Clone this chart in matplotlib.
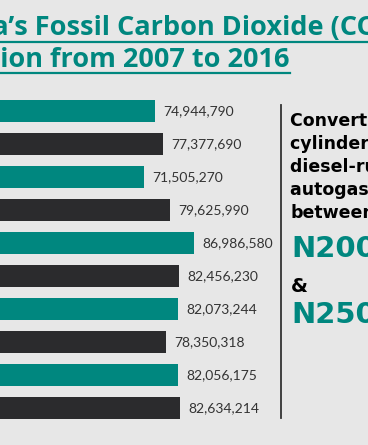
#Grafico de barras horizontales: emision de CO2 fosil 2007-2016 (recorte de infografia)

import matplotlib.pyplot as plt
from matplotlib.lines import Line2D

#Datos
years = [2007, 2008, 2009, 2010, 2011, 2012, 2013, 2014, 2015, 2016]
emision = [74944790, 77377690, 71505270, 79625990, 86986580,
           82456230, 82073244, 78350318, 82056175, 82634214]
etiquetas = ['74,944,790', '77,377,690', '71,505,270', '79,625,990', '86,986,580',
             '82,456,230', '82,073,244', '78,350,318', '82,056,175', '82,634,214']

titulo_1 = 'Nigeria\u2019s Fossil Carbon Dioxide (CO\u2082) Emission'
sufijo_1 = 'Fossil Carbon Dioxide (CO\u2082) Emission'
titulo_2 = 'Emission from 2007 to 2016'
sufijo_2 = 'from 2007 to 2016'

texto_derecha = ['Converting a 4-', 'cylinder petrol or', 'diesel-run car to',
                 'autogas costs', 'between']
precio_1 = 'N200,000'
precio_2 = 'N250,000'

#Colores
fondo = '#e7e7e7'
verde = '#00877f'
oscuro = '#2b2b2d'

W, H = 368, 445
fig = plt.figure(figsize=(W / 100, H / 100), dpi=100, facecolor=fondo)

#Eje: el origen queda fuera de la figura (a la izquierda), igual que el recorte
px_por_millon = 3.23
x0_px = -87
ancho_px = 368
ax = fig.add_axes([x0_px / W, 20.5 / H, ancho_px / W, 330 / H])
ax.set_facecolor(fondo)
ax.patch.set_alpha(0)

pos = list(range(len(years)))
colores = [verde if i % 2 == 0 else oscuro for i in pos]
ax.barh(pos, emision, height=0.667, color=colores)
ax.set_xlim(0, ancho_px / px_por_millon * 1e6)
ax.set_ylim(len(years) - 0.5, -0.5)

for p, v, txt in zip(pos, emision, etiquetas):
    ax.annotate(txt, (v, p), xytext=(5.8, 0), textcoords='offset points',
                va='center', ha='left', fontsize=10, family='Lato', color='#333333')

ax.set_yticks(pos)
ax.set_yticklabels([str(y) for y in years])
ax.tick_params(left=False, bottom=False, labelbottom=False)
for s in ax.spines.values():
    s.set_visible(False)

#Titulo (centrado en el original, aqui se alinea la palabra visible)
renderer = fig.canvas.get_renderer()
fuente_t = dict(family=['Open Sans', 'DejaVu Sans'], fontweight='bold',
                fontsize=19.5, color=verde)


def titulo(full, suf, x_suf, y_base, y_sub):
    t = fig.text(0, 1 - y_base / H, full, va='baseline', ha='left', **fuente_t)
    s = fig.text(0, 0, suf, **fuente_t)
    w_full = t.get_window_extent(renderer).width
    w_suf = s.get_window_extent(renderer).width
    s.remove()
    x_ini = x_suf - (w_full - w_suf)
    t.set_x(x_ini / W)
    fig.add_artist(Line2D([x_ini / W, (x_ini + w_full) / W], [1 - y_sub / H] * 2,
                          color=verde, lw=1.6))


titulo(titulo_1, sufijo_1, 35, 35, 42)
titulo(titulo_2, sufijo_2, 50, 67, 72.5)

#Separador y texto lateral
fig.add_artist(Line2D([281 / W] * 2, [1 - 105 / H, 1 - 418 / H], color='#333333', lw=1.3))

bases = [126, 149, 172, 195, 218]
for linea, yb in zip(texto_derecha, bases):
    fig.text(290 / W, 1 - yb / H, linea, va='baseline', ha='left', family='DejaVu Sans',
             fontweight='bold', fontsize=12.5, color='black')

fig.text(291 / W, 1 - 257 / H, precio_1, va='baseline', ha='left', family='DejaVu Sans',
         fontweight='bold', fontsize=21, color=verde)
fig.text(291 / W, 1 - 292 / H, '&', va='baseline', ha='left', family='DejaVu Sans',
         fontweight='bold', fontsize=14, color='black')
fig.text(291 / W, 1 - 323 / H, precio_2, va='baseline', ha='left', family='DejaVu Sans',
         fontweight='bold', fontsize=21, color=verde)

fig.savefig('out.png', dpi=100, facecolor=fondo)
